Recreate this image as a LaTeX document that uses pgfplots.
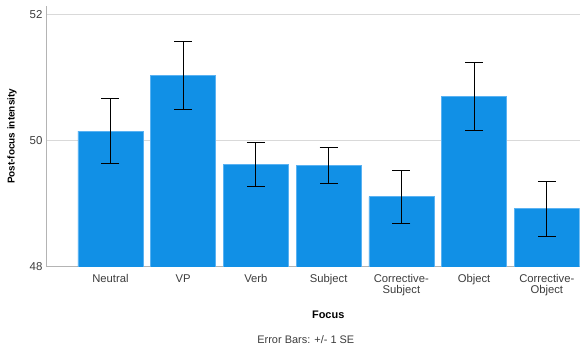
\documentclass[border=0pt]{standalone}
\usepackage{fontspec}
\setmainfont{Liberation Sans}
\usepackage{pgfplots}
\pgfplotsset{compat=1.18}
\definecolor{barblue}{HTML}{1190E6}
\definecolor{baredge}{HTML}{5AB2F2}
\definecolor{gridgray}{HTML}{D9D9D9}
\definecolor{axisgray}{HTML}{B4B4B4}
\definecolor{ticktext}{HTML}{3C3C3C}
\begin{document}
\begin{tikzpicture}[x=1bp,y=1bp]
\begin{axis}[
  name=ax,
  scale only axis,
  width=534bp, height=261bp,
  xmin=-0.887, xmax=6.45,
  ymin=48, ymax=52.13,
  axis x line*=bottom, axis y line*=left,
  axis line style={axisgray, line width=0.9pt},
  ytick={48,50,52},
  ymajorgrids, grid style={gridgray, line width=0.9pt},
  xtick={0,...,6},
  xticklabels={Neutral,VP,Verb,Subject,{Corrective-\\Subject},Object,{Corrective-\\Object}},
  xticklabel style={align=center, font=\fontsize{11.3}{11.5}\selectfont, text=ticktext, yshift=-4bp},
  yticklabel style={font=\fontsize{11.5}{12}\selectfont, text=ticktext},
  /pgf/number format/assume math mode=true,
  major tick length=0pt,
  xlabel={\textbf{Focus}},
  xlabel style={font=\fontsize{11}{12}\selectfont, at={(axis description cs:0.529,0)}, anchor=center, yshift=-48bp},
  ylabel={\textbf{Post-focus intensity}},
  ylabel style={font=\fontsize{10}{11}\selectfont, at={(axis description cs:-0.0637,0.5)}, anchor=center},
  clip mode=individual,
]
\addplot[ybar, bar width=65bp, bar shift=0pt, fill=barblue, draw=baredge, line width=0.5pt,
  error bars/.cd, y dir=both, y explicit,
  error bar style={black, line width=0.9pt},
  error mark options={black, line width=0.9pt, mark size=9bp, rotate=90}]
  coordinates {
    (0,50.15) +- (0,0.51)
    (1,51.03) +- (0,0.535)
    (2,49.62) +- (0,0.35)
    (3,49.61) +- (0,0.285)
    (4,49.11) +- (0,0.42)
    (5,50.70) +- (0,0.535)
    (6,48.92) +- (0,0.435)
  };
\node[font=\fontsize{11}{12}\selectfont, text=ticktext] at (rel axis cs:0.487,0) [yshift=-73bp] {Error Bars: +/- 1 SE};
\end{axis}
% fixed margins around the plot area
\path (ax.south west) ++(-46bp,-85bp) (ax.north east) ++(0,6bp);
\end{tikzpicture}
\end{document}
